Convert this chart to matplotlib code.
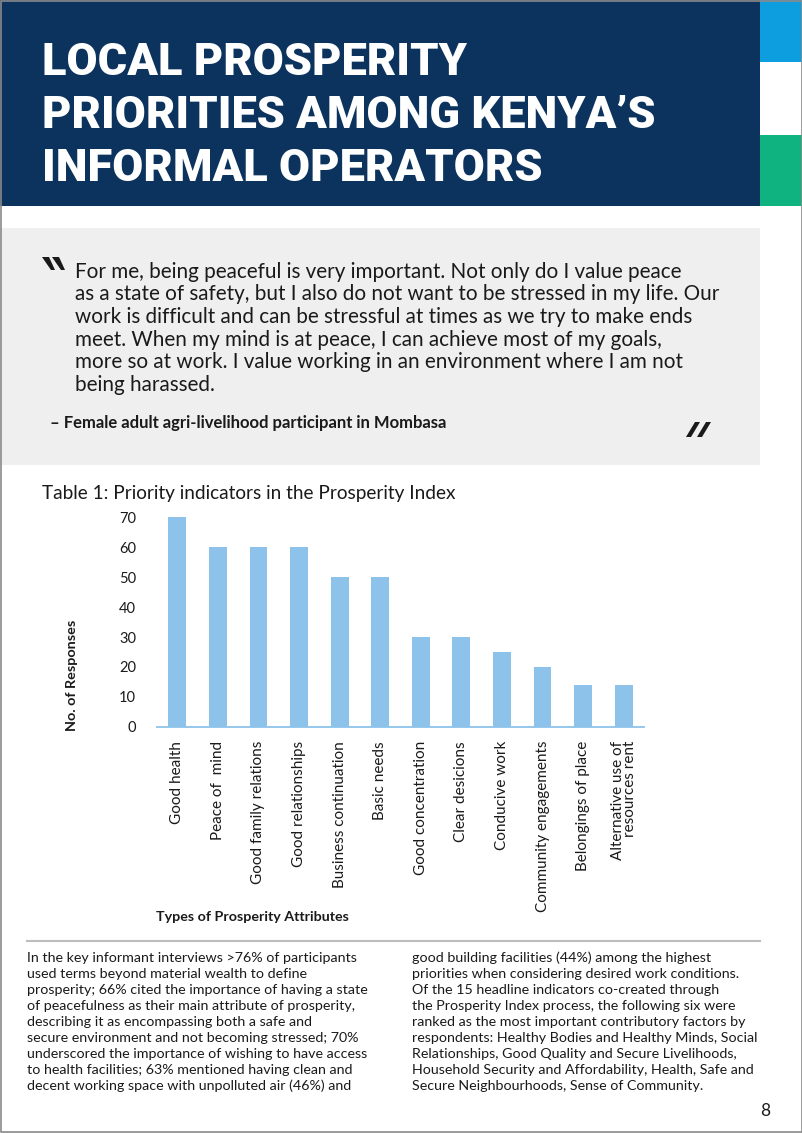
import matplotlib
matplotlib.use("Agg")
import matplotlib.pyplot as plt
from matplotlib.patches import Rectangle, Polygon

# ── Page size (px at dpi=100) ─────────────────────────────────────
W, H = 802, 1133

# ── Data ──────────────────────────────────────────────────────────
categories = ["Good health", "Peace of  mind", "Good family relations",
              "Good relationships", "Business continuation", "Basic needs",
              "Good concentration", "Clear desicions", "Conducive work",
              "Community engagements", "Belongings of place",
              "Alternative use of\nresources rent"]
responses = [70, 60, 60, 60, 50, 50, 30, 30, 25, 20, 14, 14]
y_ticks = [0, 10, 20, 30, 40, 50, 60, 70]

title_lines = ["LOCAL PROSPERITY",
               "PRIORITIES AMONG KENYA\u2019S",
               "INFORMAL OPERATORS"]
quote_lines = [
    "For me, being peaceful is very important. Not only do I value peace",
    "as a state of safety, but I also do not want to be stressed in my life. Our",
    "work is difficult and can be stressful at times as we try to make ends",
    "meet. When my mind is at peace, I can achieve most of my goals,",
    "more so at work. I value working in an environment where I am not",
    "being harassed.",
]
quote_source = "\u2013 Female adult agri-livelihood participant in Mombasa"
chart_title = "Table 1: Priority indicators in the Prosperity Index"
left_col = [
    "In the key informant interviews >76% of participants",
    "used terms beyond material wealth to define",
    "prosperity; 66% cited the importance of having a state",
    "of peacefulness as their main attribute of prosperity,",
    "describing it as encompassing both a safe and",
    "secure environment and not becoming stressed; 70%",
    "underscored the importance of wishing to have access",
    "to health facilities; 63% mentioned having clean and",
    "decent working space with unpolluted air (46%) and",
]
right_col = [
    "good building facilities (44%) among the highest",
    "priorities when considering desired work conditions.",
    "Of the 15 headline indicators co-created through",
    "the Prosperity Index process, the following six were",
    "ranked as the most important contributory factors by",
    "respondents: Healthy Bodies and Healthy Minds, Social",
    "Relationships, Good Quality and Secure Livelihoods,",
    "Household Security and Affordability, Health, Safe and",
    "Secure Neighbourhoods, Sense of Community.",
]

# ── Colours / fonts ───────────────────────────────────────────────
NAVY = "#0c335e"
BLUE = "#0d9ee0"
GREEN = "#0fb37f"
QUOTE_BG = "#efefef"
BAR = "#8dc3ea"
TXT = "#1a1a1a"
BODY = ["Lato", "DejaVu Sans"]
HEAD = ["Roboto", "DejaVu Sans"]


def fx(x):
    return x / W


def fy(y):
    return 1 - y / H


def rect(fig, x0, y0, x1, y1, **kw):
    fig.add_artist(Rectangle((fx(x0), fy(y1)), (x1 - x0) / W, (y1 - y0) / H,
                             transform=fig.transFigure, **kw))


def shape(fig, pts, **kw):
    fig.add_artist(Polygon([(fx(px), fy(py)) for px, py in pts], closed=True,
                           transform=fig.transFigure, lw=0, **kw))


fig = plt.figure(figsize=(W / 100, H / 100), dpi=100, facecolor="white")

# ── Header block + side stripes ───────────────────────────────────
rect(fig, 0, 0, 760, 206, color=NAVY, lw=0)
rect(fig, 760, 0, 802, 62, color=BLUE, lw=0)
rect(fig, 760, 135, 802, 206, color=GREEN, lw=0)
for i, line in enumerate(title_lines):
    fig.text(fx(42), fy(75 + 53 * i), line, color="white", fontsize=32.5,
             fontweight="black", family=HEAD, va="baseline", ha="left")

# ── Quote box ─────────────────────────────────────────────────────
rect(fig, 0, 228, 760, 465, color=QUOTE_BG, lw=0)
# opening / closing quote marks
for dx in (0, 10):
    shape(fig, [(42 + dx, 257), (49 + dx, 257), (55 + dx, 270), (51 + dx, 270)],
          color=TXT)
for dx in (0, 11):
    shape(fig, [(686 + dx, 437), (691 + dx, 437), (700 + dx, 422), (695 + dx, 422)],
          color=TXT)
for i, line in enumerate(quote_lines):
    fig.text(fx(75), fy(278 + 22.5 * i), line, fontsize=14.9, family=BODY,
             color=TXT, va="baseline")
fig.text(fx(50), fy(428), quote_source, fontsize=12, family=BODY,
         fontweight="bold", color=TXT, va="baseline")

# ── Chart ─────────────────────────────────────────────────────────
fig.text(fx(42), fy(499), chart_title, fontsize=13.7, family=BODY,
         color=TXT, va="baseline")

ax = fig.add_axes([fx(157), fy(727), (644 - 157) / W, (727 - 511) / H])
x = range(len(categories))
ax.bar(x, responses, width=0.44, color=BAR, zorder=2)
ax.set_xlim(-0.5, len(categories) - 0.5)
ax.set_ylim(0, 72)
ax.set_yticks(y_ticks)
ax.set_xticks(list(x))
ax.set_xticklabels(categories, rotation=90, fontsize=11, family=BODY, color=TXT)
ax.tick_params(axis="y", length=0, pad=15, labelsize=10.5, labelcolor=TXT)
ax.tick_params(axis="x", length=0, pad=10)
for lbl in ax.get_yticklabels():
    lbl.set_family(BODY)
last = ax.get_xticklabels()[-1]
last.set_multialignment("right")
last.set_linespacing(0.85)
for side in ["left", "top", "right"]:
    ax.spines[side].set_visible(False)
ax.spines["bottom"].set_color(BAR)
ax.spines["bottom"].set_linewidth(1.3)
ax.set_facecolor("none")

fig.text(fx(72), fy(675), "No. of Responses", rotation=90, fontsize=10.4,
         fontweight="bold", family=BODY, color=TXT, ha="center", va="center")
fig.text(fx(156), fy(921), "Types of Prosperity Attributes", fontsize=10.3,
         fontweight="bold", family=BODY, color=TXT, va="baseline")

# ── Body text ─────────────────────────────────────────────────────
fig.add_artist(plt.Line2D([fx(27), fx(760)], [fy(941), fy(941)],
                          transform=fig.transFigure, color="#bdbdbd", lw=1.5))
for i, line in enumerate(left_col):
    fig.text(fx(27), fy(962.5 + 16 * i), line, fontsize=10.3, family=BODY,
             color=TXT, va="baseline")
for i, line in enumerate(right_col):
    fig.text(fx(412), fy(962.5 + 16 * i), line, fontsize=10.3, family=BODY,
             color=TXT, va="baseline")
fig.text(fx(765), fy(1116), "8", fontsize=12.5, family=BODY, color=TXT,
         ha="center", va="baseline")

# page frame
rect(fig, 0.5, 0.5, 801.5, 1132, fill=False, edgecolor="#8a8a8a", lw=1.2)

fig.savefig("out.png", dpi=100, facecolor="white")
